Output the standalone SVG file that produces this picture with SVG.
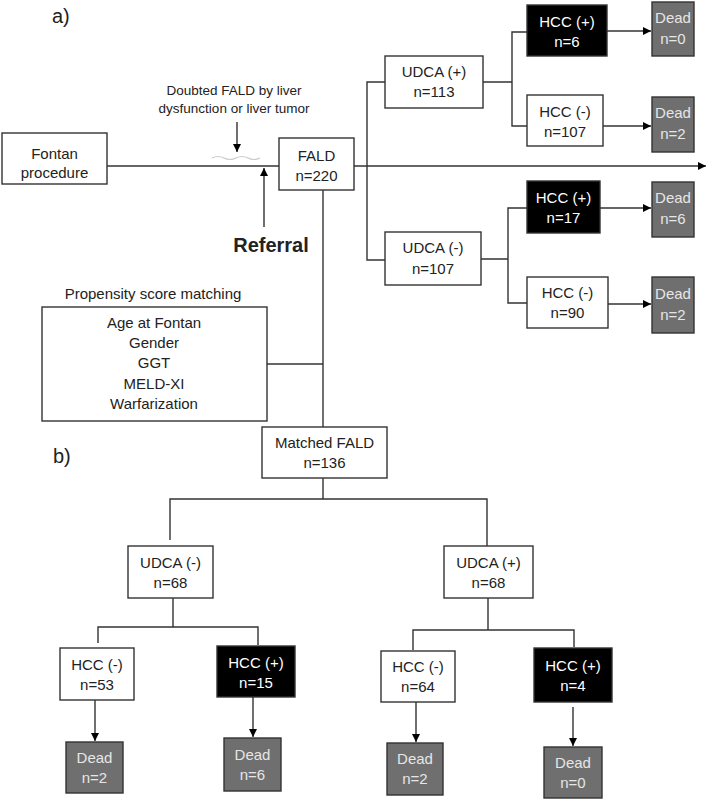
<svg xmlns="http://www.w3.org/2000/svg" width="708" height="801" viewBox="0 0 708 801">
<defs>
<marker id="ah" viewBox="0 0 10 10" refX="10" refY="5" markerWidth="8" markerHeight="8" markerUnits="userSpaceOnUse" orient="auto">
<path d="M0,0 L10,5 L0,10 z" fill="#000"/>
</marker>
<style>
text{font-family:"Liberation Sans",Arial,sans-serif;font-size:15px;text-anchor:middle;fill:#222}
.box rect{fill:#fff;stroke:#333;stroke-width:1.4}
.hp rect{fill:#000;stroke:#333;stroke-width:1.4}
.hp text{fill:#fff}
.dead rect{fill:#6f6f6f;stroke:#333;stroke-width:1.4}
.dead text{fill:#e6e6e6}
.lbl{text-anchor:start}
#connectors path,#connectors line{fill:none;stroke:#333;stroke-width:1.4}
.arr{marker-end:url(#ah)}
</style>
</defs>
<rect width="708" height="801" fill="#fff"/>

<text class="lbl" x="52" y="23" style="font-size:20px">a)</text>
<text class="lbl" x="53" y="463" style="font-size:20px">b)</text>
<text x="234" y="95" style="font-size:13.5px">Doubted  FALD by  liver</text>
<text x="234" y="113" style="font-size:13.5px">dysfunction or liver tumor</text>
<text x="271" y="252" style="font-size:20px;font-weight:bold">Referral</text>
<text x="153" y="299" style="font-size:15px">Propensity  score matching</text>
<path d="M212,158 q6,-3 12,0 t12,0 t12,0 t12,0" fill="none" stroke="#c8c8c8" stroke-width="1.2"/>

<g id="connectors">
<line x1="107" y1="166" x2="279" y2="166"/>
<line class="arr" x1="354" y1="166" x2="706" y2="166"/>
<line class="arr" x1="237" y1="122" x2="237" y2="152"/>
<line class="arr" x1="264" y1="227" x2="264" y2="168"/>
<line x1="323" y1="190" x2="323" y2="427"/>
<line x1="267" y1="364" x2="323" y2="364"/>
<path d="M385,82 H367 V260 H385"/>
<path d="M483,82 H512 M527,32 H512 V126 H527"/>
<line class="arr" x1="607" y1="31" x2="651" y2="31"/>
<line class="arr" x1="603" y1="126" x2="651" y2="126"/>
<path d="M481,259 H508 M527,208 H508 V303 H527"/>
<line class="arr" x1="600" y1="208" x2="651" y2="208"/>
<line class="arr" x1="608" y1="304" x2="651" y2="304"/>
<path d="M323,478 V499 M170,540 V499 H487 V546"/>
<path d="M173,598 V627 M98,643 V627 H258 V645"/>
<path d="M488,598 V630 M413,650 V630 H574 V647"/>
<line class="arr" x1="95" y1="700" x2="95" y2="741"/>
<line class="arr" x1="253" y1="697" x2="253" y2="737"/>
<line class="arr" x1="416" y1="702" x2="416" y2="742"/>
<line class="arr" x1="573" y1="707" x2="573" y2="746"/>
</g>

<g id="fontan" class="box"><rect x="2" y="133" width="105" height="51"/><text x="54.5" y="159">Fontan</text><text x="54.5" y="178">procedure</text></g>
<g id="fald" class="box"><rect x="279" y="138" width="75" height="52"/><text x="316.5" y="161">FALD</text><text x="316.5" y="181">n=220</text></g>
<g id="psm" class="box"><rect x="42" y="307" width="225" height="114"/>
<text x="154" y="328">Age at Fontan</text><text x="154" y="348">Gender</text><text x="154" y="368">GGT</text><text x="154" y="389">MELD-XI</text><text x="154" y="409">Warfarization</text></g>

<g id="udca-pos-a" class="box"><rect x="385" y="56" width="98" height="52"/><text x="434" y="77">UDCA (+)</text><text x="434" y="97">n=113</text></g>
<g id="hcc-pos-a1" class="hp"><rect x="527" y="5" width="80" height="51"/><text x="567" y="27">HCC (+)</text><text x="567" y="47">n=6</text></g>
<g id="dead-a1" class="dead"><rect x="652" y="2" width="42" height="54"/><text x="673" y="23">Dead</text><text x="673" y="44">n=0</text></g>
<g id="hcc-neg-a1" class="box"><rect x="527" y="95" width="76" height="51"/><text x="565" y="117">HCC (-)</text><text x="565" y="137">n=107</text></g>
<g id="dead-a2" class="dead"><rect x="652" y="97" width="42" height="55"/><text x="673" y="118">Dead</text><text x="673" y="139">n=2</text></g>

<g id="udca-neg-a" class="box"><rect x="385" y="232" width="96" height="53"/><text x="433" y="253">UDCA (-)</text><text x="433" y="274">n=107</text></g>
<g id="hcc-pos-a2" class="hp"><rect x="527" y="181" width="73" height="52"/><text x="563.5" y="203">HCC (+)</text><text x="563.5" y="223">n=17</text></g>
<g id="dead-a3" class="dead"><rect x="652" y="182" width="42" height="55"/><text x="673" y="203">Dead</text><text x="673" y="224">n=6</text></g>
<g id="hcc-neg-a2" class="box"><rect x="527" y="277" width="81" height="51"/><text x="567.5" y="298">HCC (-)</text><text x="567.5" y="318">n=90</text></g>
<g id="dead-a4" class="dead"><rect x="652" y="277" width="42" height="56"/><text x="673" y="299">Dead</text><text x="673" y="320">n=2</text></g>

<g id="matched" class="box"><rect x="262" y="427" width="125" height="51"/><text x="324.5" y="448">Matched FALD</text><text x="324.5" y="468">n=136</text></g>
<g id="udca-neg-b" class="box"><rect x="128" y="546" width="85" height="52"/><text x="170.5" y="568">UDCA (-)</text><text x="170.5" y="588">n=68</text></g>
<g id="udca-pos-b" class="box"><rect x="444" y="546" width="89" height="52"/><text x="488.5" y="568">UDCA (+)</text><text x="488.5" y="588">n=68</text></g>
<g id="hcc-neg-b1" class="box"><rect x="60" y="648" width="74" height="52"/><text x="97" y="670">HCC (-)</text><text x="97" y="690">n=53</text></g>
<g id="hcc-pos-b1" class="hp"><rect x="217" y="646" width="78" height="51"/><text x="256" y="668">HCC (+)</text><text x="256" y="688">n=15</text></g>
<g id="hcc-neg-b2" class="box"><rect x="381" y="651" width="74" height="51"/><text x="418" y="672">HCC (-)</text><text x="418" y="692">n=64</text></g>
<g id="hcc-pos-b2" class="hp"><rect x="534" y="648" width="78" height="54"/><text x="573" y="671">HCC (+)</text><text x="573" y="691">n=4</text></g>
<g id="dead-b1" class="dead"><rect x="66" y="742" width="57" height="51"/><text x="94.5" y="763">Dead</text><text x="94.5" y="783">n=2</text></g>
<g id="dead-b2" class="dead"><rect x="224" y="738" width="57" height="53"/><text x="252.5" y="760">Dead</text><text x="252.5" y="780">n=6</text></g>
<g id="dead-b3" class="dead"><rect x="387" y="743" width="56" height="52"/><text x="415" y="764">Dead</text><text x="415" y="784">n=2</text></g>
<g id="dead-b4" class="dead"><rect x="544" y="747" width="58" height="51"/><text x="573" y="768">Dead</text><text x="573" y="788">n=0</text></g>
</svg>
